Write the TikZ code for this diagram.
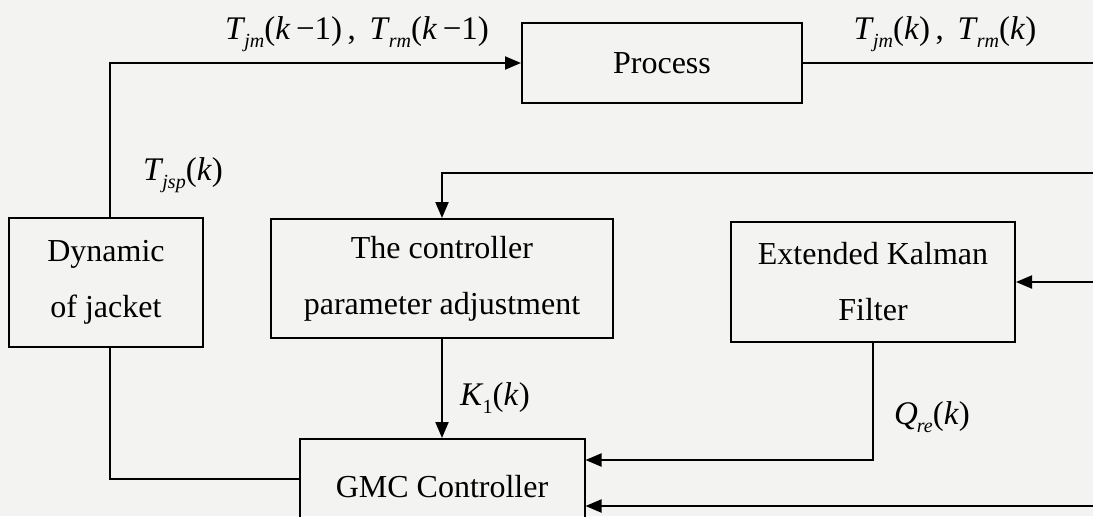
\documentclass[tikz,border=0pt]{standalone}
\usepackage{fontspec}
\setmainfont{Liberation Serif}
\usetikzlibrary{arrows.meta}

\definecolor{paper}{RGB}{243,243,241}

% symbol with a lowered subscript (subscript style given by the caller)
\newcommand{\vsym}[2]{\textit{#1}\kern-0.5pt\raisebox{-0.5ex}{\fontsize{10}{10}\selectfont #2}}
\newcommand{\kk}{\textit{k}}

\begin{document}
\begin{tikzpicture}[x=0.5pt,y=-0.5pt,
  font=\fontsize{16}{28}\selectfont,
  box/.style={draw, line width=1pt, inner sep=0pt, align=center},
  link/.style={line width=1pt},
  arr/.style={link, -{Triangle[length=8pt,width=6.5pt]}},
  lbl/.style={inner sep=0pt, font=\fontsize{16.5}{20}\selectfont}]

\fill[paper] (0,0) rectangle (1093,516);
\useasboundingbox (0,0) rectangle (1093,516);
\clip (0,0) rectangle (1093,516);

% blocks
\node[box, minimum width=140pt, minimum height=40pt] (proc) at (662,63) {Process};
\node[box, minimum width=97pt, minimum height=64.5pt] (dyn) at (106,282.5) {Dynamic\\of jacket};
\node[box, minimum width=171pt, minimum height=59.5pt] (par) at (442,278.5) {The controller\\parameter adjustment};
\node[box, minimum width=142pt, minimum height=60pt] (ekf) at (873,282) {Extended Kalman\\Filter};
\node[box, minimum width=142.5pt, minimum height=48pt] (gmc) at (442,487) {GMC Controller};

% free ends on the right-hand side
\coordinate (outR) at (1093,63);
\coordinate (fbR) at (1093,173);
\coordinate (ekfR) at (1093,282);
\coordinate (botR) at (1093,506);

% connectors
\draw[arr] ([xshift=2pt]dyn.north) |- (proc.west);
\draw[link] (proc.east) -- (outR);
\draw[arr] (fbR) -| (par.north);
\draw[arr] (ekfR) -- (ekf.east);
\draw[arr] (par.south) -- (gmc.north);
\draw[arr] (ekf.south) |- ([yshift=13.5pt]gmc.east);
\draw[arr] (botR) -- (gmc.east |- botR);
\draw[link] ([xshift=2pt]dyn.south) |- ([yshift=4pt]gmc.west);

% signal labels
\node[lbl] (l1) at (357,34) {\vsym{T}{\textit{jm}}(\kk\,−1)\,,\, \vsym{T}{\textit{rm}}(\kk\,−1)};
\node[lbl] (l2) at (945,34) {\vsym{T}{\textit{jm}}(\kk)\,,\, \vsym{T}{\textit{rm}}(\kk)};
\node[lbl] (l3) at (183,175) {\vsym{T}{\textit{jsp}}(\kk)};
\node[lbl] (l4) at (495,398) {\vsym{K}{1}(\kk)};
\node[lbl] (l5) at (932,417) {\vsym{Q}{\textit{re}}(\kk)};
\end{tikzpicture}
\end{document}
